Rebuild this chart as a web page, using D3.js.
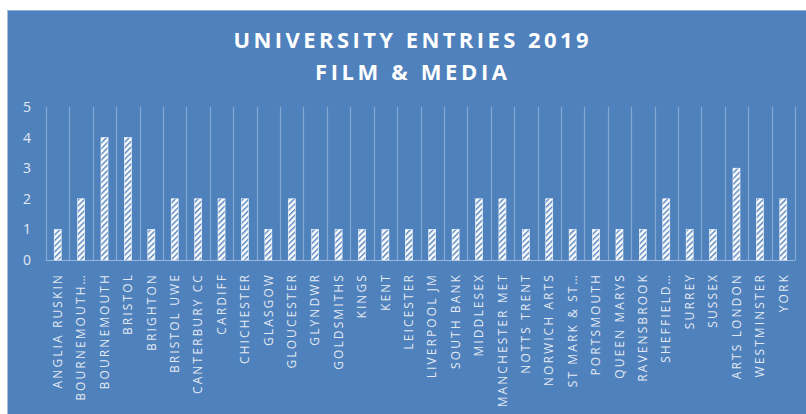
<!DOCTYPE html>
<html>
<head>
<meta charset="utf-8">
<script src="https://cdn.jsdelivr.net/npm/d3@7"></script>
<style>
	html, body { margin: 0; padding: 0; background: #ffffff; }
	svg { display: block; }
</style>
</head>
<body>
<svg width="806" height="414"></svg>
<script>
// data
var universities = ['ANGLIA RUSKIN', 'BOURNEMOUTH\u2026', 'BOURNEMOUTH', 'BRISTOL', 'BRIGHTON', 'BRISTOL UWE',
	'CANTERBURY CC', 'CARDIFF', 'CHICHESTER', 'GLASGOW', 'GLOUCESTER', 'GLYNDWR', 'GOLDSMITHS', 'KINGS',
	'KENT', 'LEICESTER', 'LIVERPOOL JM', 'SOUTH BANK', 'MIDDLESEX', 'MANCHESTER MET', 'NOTTS TRENT',
	'NORWICH ARTS', 'ST MARK & ST\u2026', 'PORTSMOUTH', 'QUEEN MARYS', 'RAVENSBROOK', 'SHEFFIELD\u2026',
	'SURREY', 'SUSSEX', 'ARTS LONDON', 'WESTMINSTER', 'YORK'];
var entries = [1, 2, 4, 4, 1, 2, 2, 2, 2, 1, 2, 1, 1, 1, 1, 1, 1, 1, 2, 2, 1, 2, 1, 1, 1, 1, 2, 1, 1, 3, 2, 2];
var yTicks = [0, 1, 2, 3, 4, 5];
var titleLines = ['UNIVERSITY ENTRIES 2019', 'FILM & MEDIA'];

var chart = {
	bg: '#4f81bd',
	grid: '#86a8d3',
	text: '#e2e9f2',
	left: 46,
	right: 795,
	top: 107,
	bottom: 260
};

var svg = d3.select('svg');

// hatch pattern for the bars
var pat = svg.append('defs').append('pattern')
	.attr('id', 'hatch')
	.attr('patternUnits', 'userSpaceOnUse')
	.attr('width', 4)
	.attr('height', 4)
	.attr('patternTransform', 'rotate(45)');
pat.append('rect').attr('width', 4).attr('height', 4).attr('fill', '#ffffff');
pat.append('rect').attr('width', 1.4).attr('height', 4).attr('fill', chart.bg);

// background
svg.append('rect')
	.attr('x', 7.5).attr('y', 10)
	.attr('width', 806 - 7.5).attr('height', 414 - 10)
	.attr('fill', chart.bg);
svg.append('line')
	.attr('x1', 7.5).attr('x2', 806).attr('y1', 10.5).attr('y2', 10.5)
	.attr('stroke', '#8fb0d8').attr('stroke-width', 1);

var x = d3.scaleBand().domain(universities).range([chart.left, chart.right]);
var y = d3.scaleLinear().domain([0, 5]).range([chart.bottom, chart.top]);

// title
svg.selectAll('text.title')
	.data(titleLines)
	.enter()
	.append('text')
	.attr('class', 'title')
	.attr('x', 411)
	.attr('y', function(d, i){ return 48 + i * 32; })
	.attr('text-anchor', 'middle')
	.attr('fill', '#ffffff')
	.attr('font-family', 'Open Sans, sans-serif')
	.attr('font-weight', 'bold')
	.attr('font-size', 22)
	.attr('textLength', function(d, i){ return i == 0 ? 355 : 192; })
	.attr('lengthAdjust', 'spacing')
	.text(function(d){ return d; });

// vertical gridlines at the category edges
var edges = universities.map(function(d){ return x(d); }).concat([chart.right]);
svg.append('g').selectAll('line')
	.data(edges)
	.enter()
	.append('line')
	.attr('x1', function(d){ return Math.round(d) + 0.5; })
	.attr('x2', function(d){ return Math.round(d) + 0.5; })
	.attr('y1', chart.top)
	.attr('y2', chart.bottom)
	.attr('stroke', chart.grid)
	.attr('stroke-width', 1.2);

// baseline
svg.append('line')
	.attr('x1', chart.left).attr('x2', chart.right)
	.attr('y1', chart.bottom + 0.5).attr('y2', chart.bottom + 0.5)
	.attr('stroke', '#9ab6dc').attr('stroke-width', 1);

// y axis labels
var yAxis = svg.append('g')
	.attr('transform', 'translate(31,0)')
	.call(d3.axisLeft(y).tickValues(yTicks).tickFormat(d3.format('d')).tickSize(0).tickPadding(0));
yAxis.select('.domain').remove();
yAxis.selectAll('text')
	.attr('fill', chart.text)
	.attr('font-family', 'Open Sans, sans-serif')
	.attr('font-size', 14);

// bars
var barW = 7;
svg.append('g').selectAll('rect')
	.data(entries)
	.enter()
	.append('rect')
	.attr('x', function(d, i){ return x(universities[i]) + x.bandwidth() / 2 - barW / 2; })
	.attr('y', function(d){ return y(d); })
	.attr('width', barW)
	.attr('height', function(d){ return y(0) - y(d); })
	.attr('fill', 'url(#hatch)')
	.attr('stroke', '#ffffff')
	.attr('stroke-width', 0.6);

// category labels, rotated
var xAxis = svg.append('g')
	.attr('transform', 'translate(0,' + (chart.bottom + 13) + ')')
	.call(d3.axisBottom(x).tickSize(0).tickPadding(0));
xAxis.select('.domain').remove();
xAxis.selectAll('text')
	.attr('transform', 'rotate(-90)')
	.attr('x', 0)
	.attr('y', 0)
	.attr('dy', '0.35em')
	.attr('text-anchor', 'end')
	.attr('fill', chart.text)
	.attr('font-family', 'Open Sans, sans-serif')
	.attr('font-size', 12)
	.attr('letter-spacing', 2.1);
</script>
</body>
</html>
